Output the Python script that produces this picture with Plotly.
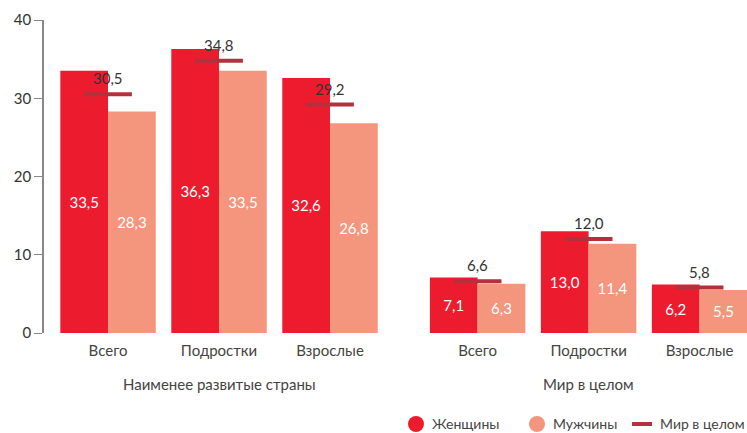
import plotly.graph_objects as go

categories = ["Всего", "Подростки", "Взрослые", "Всего", "Подростки", "Взрослые"]
group_labels = ["Наименее развитые страны", "Мир в целом"]
series_names = ["Женщины", "Мужчины", "Мир в целом"]
women = [33.5, 36.3, 32.6, 7.1, 13.0, 6.2]
men = [28.3, 33.5, 26.8, 6.3, 11.4, 5.5]
world = [30.5, 34.8, 29.2, 6.6, 12.0, 5.8]
y_ticks = [0, 10, 20, 30, 40]

RED = "#EC1C2E"
SALMON = "#F4967D"
LINE = "#B3313C"
TXT = "#333333"
FONT = "Lato, Noto Sans, sans-serif"

W, H = 747, 433
ML, MR, MT, MB = 44, 0, 20, 100
PW, PH = W - ML - MR, H - MT - MB

gap = 0.33
pos = [0, 1, 2, 3 + gap, 4 + gap, 5 + gap]
bw = 0.43

def fmt(v):
    return f"{v:.1f}".replace(".", ",")

def px(x):
    return (x - ML) / PW

def py(y):
    return (H - MB - y) / PH

fig = go.Figure()
fig.add_bar(x=pos, y=women, width=bw, offset=-bw, marker_color=RED, marker_line_width=0,
            text=[fmt(v) for v in women], textposition="inside", insidetextanchor="middle",
            textfont=dict(color="white", size=15), showlegend=False, name=series_names[0])
fig.add_bar(x=pos, y=men, width=bw, offset=0, marker_color=SALMON, marker_line_width=0,
            text=[fmt(v) for v in men], textposition="inside", insidetextanchor="middle",
            textfont=dict(color="white", size=15), showlegend=False, name=series_names[1])

lx, ly = [], []
for p, v in zip(pos, world):
    lx += [p - bw / 2, p + bw / 2, None]
    ly += [v, v, None]
fig.add_scatter(x=lx, y=ly, mode="lines", line=dict(color=LINE, width=4),
                showlegend=False, hoverinfo="skip", name=series_names[2])
for p, v in zip(pos, world):
    fig.add_annotation(x=p, y=v, xref="x", yref="y", yanchor="bottom", yshift=5,
                       text=fmt(v), showarrow=False, font=dict(size=15, color=TXT))

fig.add_annotation(x=(pos[0] + pos[2]) / 2, y=0, xref="x", yref="paper", yanchor="top",
                   yshift=-40, text=group_labels[0], showarrow=False,
                   font=dict(size=15, color="#444"))
fig.add_annotation(x=(pos[3] + pos[5]) / 2, y=0, xref="x", yref="paper", yanchor="top",
                   yshift=-40, text=group_labels[1], showarrow=False,
                   font=dict(size=15, color="#444"))

# manual legend (bottom right)
ley = 424
for cx, col in [(416, RED), (537, SALMON)]:
    fig.add_shape(type="circle", xref="paper", yref="paper",
                  x0=px(cx - 8), x1=px(cx + 8), y0=py(ley + 8), y1=py(ley - 8),
                  fillcolor=col, line_width=0)
fig.add_shape(type="line", xref="paper", yref="paper", x0=px(632), x1=px(652),
              y0=py(ley), y1=py(ley), line=dict(color=LINE, width=4))
fig.add_annotation(x=px(430), y=py(ley), xref="paper", yref="paper", xanchor="left",
                   yanchor="middle", text=series_names[0], showarrow=False,
                   font=dict(size=14, color="#444"))
fig.add_annotation(x=px(551), y=py(ley), xref="paper", yref="paper", xanchor="left",
                   yanchor="middle", text=series_names[1], showarrow=False,
                   font=dict(size=14, color="#444"))
fig.add_annotation(x=px(747), y=py(ley), xref="paper", yref="paper", xanchor="right",
                   yanchor="middle", text=series_names[2], showarrow=False,
                   font=dict(size=14, color="#444"))

fig.update_layout(
    width=W, height=H,
    margin=dict(l=ML, r=MR, t=MT, b=MB),
    plot_bgcolor="white", paper_bgcolor="white",
    font=dict(family=FONT, color=TXT, size=15),
    barmode="overlay",
    showlegend=False,
    xaxis=dict(range=[-0.577, 5.757], tickvals=pos, ticktext=categories, showline=False,
               showgrid=False, zeroline=False, ticks="", ticklabelstandoff=7,
               tickfont=dict(size=15, color="#444")),
    yaxis=dict(range=[0, 40], tickvals=y_ticks, showline=True, linecolor="#888",
               linewidth=1.5, ticks="outside", ticklen=8, tickcolor="#888", showgrid=False,
               zeroline=False, tickfont=dict(size=15, color=TXT)),
)

fig.write_html("out.html", config={"displayModeBar": False},
               post_script="document.body.style.margin='0';document.body.style.overflow='hidden';")
